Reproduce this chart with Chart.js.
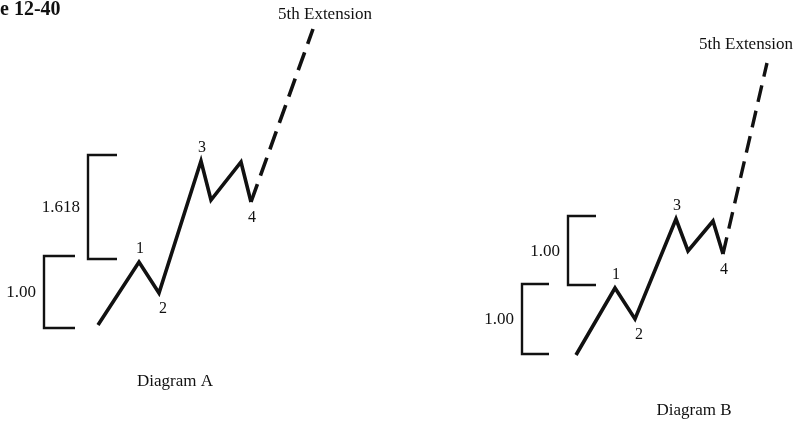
<!DOCTYPE html>
<html>
<head>
<meta charset="utf-8">
<script src="https://cdn.jsdelivr.net/npm/chart.js@4.4.1/dist/chart.umd.min.js"></script>
<style>
  html, body { margin: 0; padding: 0; background: #ffffff; }
  #wrap { width: 798px; height: 421px; position: relative; }
</style>
</head>
<body>
<div id="wrap"><canvas id="c" width="798" height="421"></canvas></div>
<script>
// ---- Data (time units across, price units up) ----
// Diagram A: impulse waves 0-1-2-3-(a)-(b)-4
const waveA_time  = [98, 139, 159, 201, 211, 241, 251];
const waveA_price = [96, 159, 128, 260, 221, 259, 219];
// Diagram A: dashed 5th wave extension
const extA_time  = [251, 313];
const extA_price = [219, 392];

// Diagram B
const waveB_time  = [576, 615, 635, 676, 688, 713, 723];
const waveB_price = [66, 133, 102, 202, 170, 200, 167];
const extB_time  = [723, 767];
const extB_price = [167, 358];

// wave labels and the wave points they mark
const waveLabels   = ['1', '2', '3', '4'];
const waveLabelIdx = [1, 2, 3, 6];
const waveLabelSide = ['above', 'below', 'above', 'below'];

// measuring brackets: [top level, bottom level]
const bracketA_upper = [266, 162];
const bracketA_lower = [165, 93];
const bracketB_upper = [205, 136];
const bracketB_lower = [137, 67];
const bracketA_labels = ['1.618', '1.00'];
const bracketB_labels = ['1.00', '1.00'];

// text
const figureTitle = 'e 12-40';
const extensionLabel = '5th Extension';
const diagramNames = ['Diagram A', 'Diagram B'];

// ---- Layout (positions in the same units) ----
const bracketSpecs = [
  { lv: bracketA_upper, vert: 88,  arm: 117, label: bracketA_labels[0] },
  { lv: bracketA_lower, vert: 44,  arm: 75,  label: bracketA_labels[1] },
  { lv: bracketB_upper, vert: 568, arm: 596, label: bracketB_labels[0] },
  { lv: bracketB_lower, vert: 522, arm: 549, label: bracketB_labels[1] }
];

function pts(xs, ys) { return xs.map((x, i) => ({ x: x, y: ys[i] })); }
function bracketPts(b) {
  return [
    { x: b.arm,  y: b.lv[0] },
    { x: b.vert, y: b.lv[0] },
    { x: b.vert, y: b.lv[1] },
    { x: b.arm,  y: b.lv[1] }
  ];
}

const INK = '#111111';
const datasets = [];
datasets.push({ data: pts(waveA_time, waveA_price), borderWidth: 3.6, borderDash: [] });
datasets.push({ data: pts(waveB_time, waveB_price), borderWidth: 3.6, borderDash: [] });
datasets.push({ data: pts(extA_time, extA_price), borderWidth: 3.6, borderDash: [19, 9], borderCapStyle: 'butt' });
datasets.push({ data: pts(extB_time, extB_price), borderWidth: 3.4, borderDash: [17, 9], borderCapStyle: 'butt' });
bracketSpecs.forEach(b => datasets.push({ data: bracketPts(b), borderWidth: 2.4, borderDash: [] }));
datasets.forEach(d => {
  d.showLine = true;
  d.pointRadius = 0;
  d.borderColor = INK;
  d.backgroundColor = INK;
  d.fill = false;
  d.tension = 0;
  d.borderJoinStyle = 'miter';
  if (!d.borderCapStyle) d.borderCapStyle = 'butt';
});

const SERIF = '"Liberation Serif", "Times New Roman", serif';

const textPlugin = {
  id: 'textPlugin',
  afterDatasetsDraw(chart) {
    const ctx = chart.ctx;
    const xs = chart.scales.x, ys = chart.scales.y;
    const px = v => xs.getPixelForValue(v);
    const py = v => ys.getPixelForValue(v);
    ctx.save();
    ctx.fillStyle = INK;

    // figure title
    ctx.font = 'bold 20px ' + SERIF;
    ctx.textAlign = 'left';
    ctx.textBaseline = 'middle';
    ctx.fillText(figureTitle, 0, 10);

    // wave labels
    ctx.font = '16px ' + SERIF;
    ctx.textAlign = 'center';
    [[waveA_time, waveA_price], [waveB_time, waveB_price]].forEach(([t, p]) => {
      waveLabels.forEach((lab, i) => {
        const k = waveLabelIdx[i];
        const above = waveLabelSide[i] === 'above';
        const dx = lab === '2' ? 4 : 1;
        const dy = above ? -13 : 16;
        ctx.fillText(lab, px(t[k]) + dx, py(p[k]) + dy);
      });
    });

    // bracket labels
    ctx.font = '17px ' + SERIF;
    ctx.textAlign = 'right';
    bracketSpecs.forEach(b => {
      const mid = (py(b.lv[0]) + py(b.lv[1])) / 2;
      ctx.fillText(b.label, px(b.vert) - 8, mid + 1);
    });

    // extension labels
    ctx.textAlign = 'center';
    ctx.fillText(extensionLabel, px(extA_time[1]) + 12, py(extA_price[1]) - 14);
    ctx.fillText(extensionLabel, px(extB_time[1]) - 21, py(extB_price[1]) - 18);

    // diagram names
    ctx.fillText(diagramNames[0], 175, 382);
    ctx.fillText(diagramNames[1], 694, 411);
    ctx.restore();
  }
};

new Chart(document.getElementById('c'), {
  type: 'scatter',
  data: { datasets: datasets },
  options: {
    responsive: false,
    animation: false,
    devicePixelRatio: 1,
    layout: { padding: 0 },
    plugins: { legend: { display: false }, tooltip: { enabled: false }, title: { display: false } },
    scales: {
      x: { type: 'linear', min: 0, max: 798, display: false },
      y: { type: 'linear', min: 0, max: 421, display: false }
    }
  },
  plugins: [textPlugin]
});
</script>
</body>
</html>
